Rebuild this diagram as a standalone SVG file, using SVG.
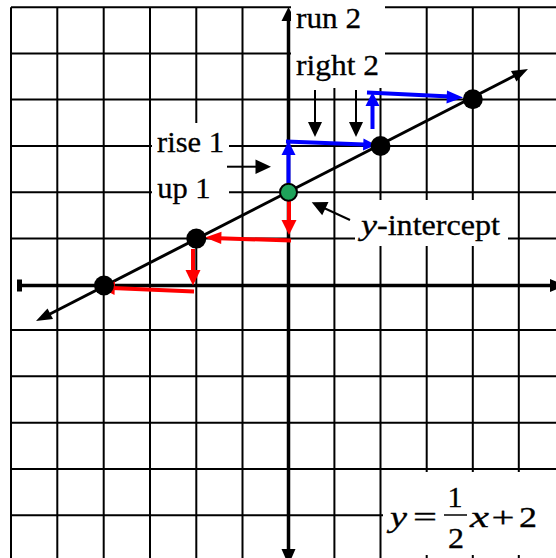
<svg xmlns="http://www.w3.org/2000/svg" width="556" height="558" viewBox="0 0 556 558">
<style>
.grid line{stroke:#000;stroke-width:2}
.axis{stroke:#000;stroke-width:3.5}
.box{fill:#fff}
.lbl{font-family:"Liberation Serif","Times New Roman",serif;font-size:29px;fill:#000;stroke:#000;stroke-width:0.3}
.eq{font-family:"Liberation Serif","Times New Roman",serif;font-size:29px;fill:#000;stroke:#000;stroke-width:0.3}
.it{font-style:italic}
.blue{stroke:#0000ff;stroke-width:4;fill:none}
.red{stroke:#ff0000;stroke-width:4;fill:none}
.blk{stroke:#000;stroke-width:2;fill:none}
.bh{fill:#0000ff}
.rh{fill:#ff0000}
.kh{fill:#000}
</style>
<rect width="556" height="558" fill="#fff"/>
<g id="grid" class="grid">
<line x1="11" y1="7.3" x2="11" y2="558"/>
<line x1="57.3" y1="7.3" x2="57.3" y2="558"/>
<line x1="103.7" y1="7.3" x2="103.7" y2="558"/>
<line x1="150" y1="7.3" x2="150" y2="558"/>
<line x1="196.3" y1="7.3" x2="196.3" y2="558"/>
<line x1="242.5" y1="7.3" x2="242.5" y2="558"/>
<line x1="334.4" y1="7.3" x2="334.4" y2="558"/>
<line x1="380.5" y1="7.3" x2="380.5" y2="558"/>
<line x1="426.7" y1="7.3" x2="426.7" y2="558"/>
<line x1="472.8" y1="7.3" x2="472.8" y2="558"/>
<line x1="518.8" y1="7.3" x2="518.8" y2="558"/>
<line x1="11" y1="7.3" x2="556" y2="7.3"/>
<line x1="11" y1="53.4" x2="556" y2="53.4"/>
<line x1="11" y1="99.6" x2="556" y2="99.6"/>
<line x1="11" y1="145.9" x2="556" y2="145.9"/>
<line x1="11" y1="192.2" x2="556" y2="192.2"/>
<line x1="11" y1="238.6" x2="556" y2="238.6"/>
<line x1="11" y1="330" x2="556" y2="330"/>
<line x1="11" y1="376.3" x2="556" y2="376.3"/>
<line x1="11" y1="422.7" x2="556" y2="422.7"/>
<line x1="11" y1="469" x2="556" y2="469"/>
<line x1="11" y1="515.3" x2="556" y2="515.3"/>
</g>
<g id="axes">
<line class="axis" x1="18" y1="285.5" x2="556" y2="285.5"/>
<line class="axis" x1="288.5" y1="12" x2="288.5" y2="558"/>
<rect class="kh" x="17" y="279.5" width="5" height="12"/>
<polygon class="kh" points="550,279 550,292 566,285.5"/>
<polygon class="kh" points="281.5,549 295.5,549 288.5,565"/>
<polygon class="kh" points="281.5,21 295.5,21 288.5,7"/>
</g>
<g id="boxes">
<rect class="box" x="291" y="0" width="94" height="88"/>
<rect class="box" x="152" y="123" width="77" height="107"/>
<rect class="box" x="355" y="200" width="153" height="46"/>
<rect class="box" x="383" y="472" width="173" height="83"/>
</g>
<g id="connectors">
<line class="blk" x1="48" y1="315" x2="516" y2="75" style="stroke-width:3"/>
<polygon class="kh" points="528,69 516.5,81.6 511,70.9"/>
<polygon class="kh" points="36,321 53,319.1 47.5,308.4"/>
<line class="blue" x1="288.5" y1="183" x2="288.5" y2="153"/>
<polygon class="bh" points="281.5,155 295.5,155 288.5,141"/>
<line class="blue" x1="286" y1="141.5" x2="364" y2="144.5"/>
<polygon class="bh" points="376,145 363.5,138.5 363,150.5"/>
<line class="blue" x1="372.5" y1="129" x2="372.5" y2="104"/>
<polygon class="bh" points="365.5,106 379.5,106 372.5,92"/>
<line class="blue" x1="367" y1="92.5" x2="450" y2="96.5"/>
<polygon class="bh" points="463,97.5 447,90.5 446.5,103.5"/>
<line class="red" x1="289" y1="200" x2="289" y2="222"/>
<polygon class="rh" points="281.5,220 296.5,220 289,235"/>
<line class="red" x1="291" y1="240.5" x2="219" y2="238.3"/>
<polygon class="rh" points="205,237.5 221.5,231.8 221.2,244"/>
<line class="red" x1="193" y1="249" x2="193" y2="272"/>
<polygon class="rh" points="185.5,270 200.5,270 193,285.5"/>
<line class="red" x1="194" y1="291.5" x2="112" y2="288"/>
<polygon class="rh" points="98.3,286.7 115,281.5 114.5,295"/>
<line class="blk" x1="227" y1="166.7" x2="258" y2="166.7"/>
<polygon class="kh" points="271,166.7 255.5,159.5 255.5,174"/>
<line class="blk" x1="315" y1="90" x2="315" y2="124"/>
<polygon class="kh" points="308,122 322,122 315,137"/>
<line class="blk" x1="356" y1="90" x2="356" y2="124"/>
<polygon class="kh" points="349,122 363,122 356,137"/>
<line class="blk" x1="350" y1="220" x2="324" y2="208"/>
<polygon class="kh" points="311.7,202.3 328.5,202 322.2,215.2"/>
</g>
<g id="point-a"><circle cx="104" cy="285.5" r="10" fill="#000"/></g>
<g id="point-b"><circle cx="196.3" cy="238.6" r="10" fill="#000"/></g>
<g id="point-c"><circle cx="380.5" cy="146" r="10" fill="#000"/></g>
<g id="point-d"><circle cx="472.8" cy="99.3" r="10" fill="#000"/></g>
<g id="intercept"><circle cx="288.5" cy="192.2" r="8.5" fill="#1fa35a" stroke="#000" stroke-width="2"/></g>
<g id="labels">
<text class="lbl" x="296" y="28" textLength="65" lengthAdjust="spacingAndGlyphs">run 2</text>
<text class="lbl" x="296" y="75" textLength="83" lengthAdjust="spacingAndGlyphs">right 2</text>
<text class="lbl" x="157" y="151.7" textLength="67" lengthAdjust="spacingAndGlyphs">rise 1</text>
<text class="lbl" x="157.3" y="197.5" textLength="53.3" lengthAdjust="spacingAndGlyphs">up 1</text>
<text class="lbl it" x="361" y="235" textLength="16" lengthAdjust="spacingAndGlyphs">y</text>
<text class="lbl" x="377" y="235" textLength="123" lengthAdjust="spacingAndGlyphs">-intercept</text>
</g>
<g id="equation">
<text class="eq it" x="390" y="527" textLength="17" lengthAdjust="spacingAndGlyphs">y</text>
<text class="eq" x="413" y="527" textLength="24" lengthAdjust="spacingAndGlyphs">=</text>
<text class="eq" x="447.5" y="507" textLength="15" lengthAdjust="spacingAndGlyphs">1</text>
<line x1="444" y1="515" x2="467" y2="515" stroke="#000" stroke-width="1.5"/>
<text class="eq" x="448" y="548" textLength="16" lengthAdjust="spacingAndGlyphs">2</text>
<text class="eq it" x="470" y="527" textLength="19" lengthAdjust="spacingAndGlyphs">x</text>
<text class="eq" x="491.5" y="527" textLength="23" lengthAdjust="spacingAndGlyphs">+</text>
<text class="eq" x="519" y="527" textLength="18" lengthAdjust="spacingAndGlyphs">2</text>
</g>
</svg>
